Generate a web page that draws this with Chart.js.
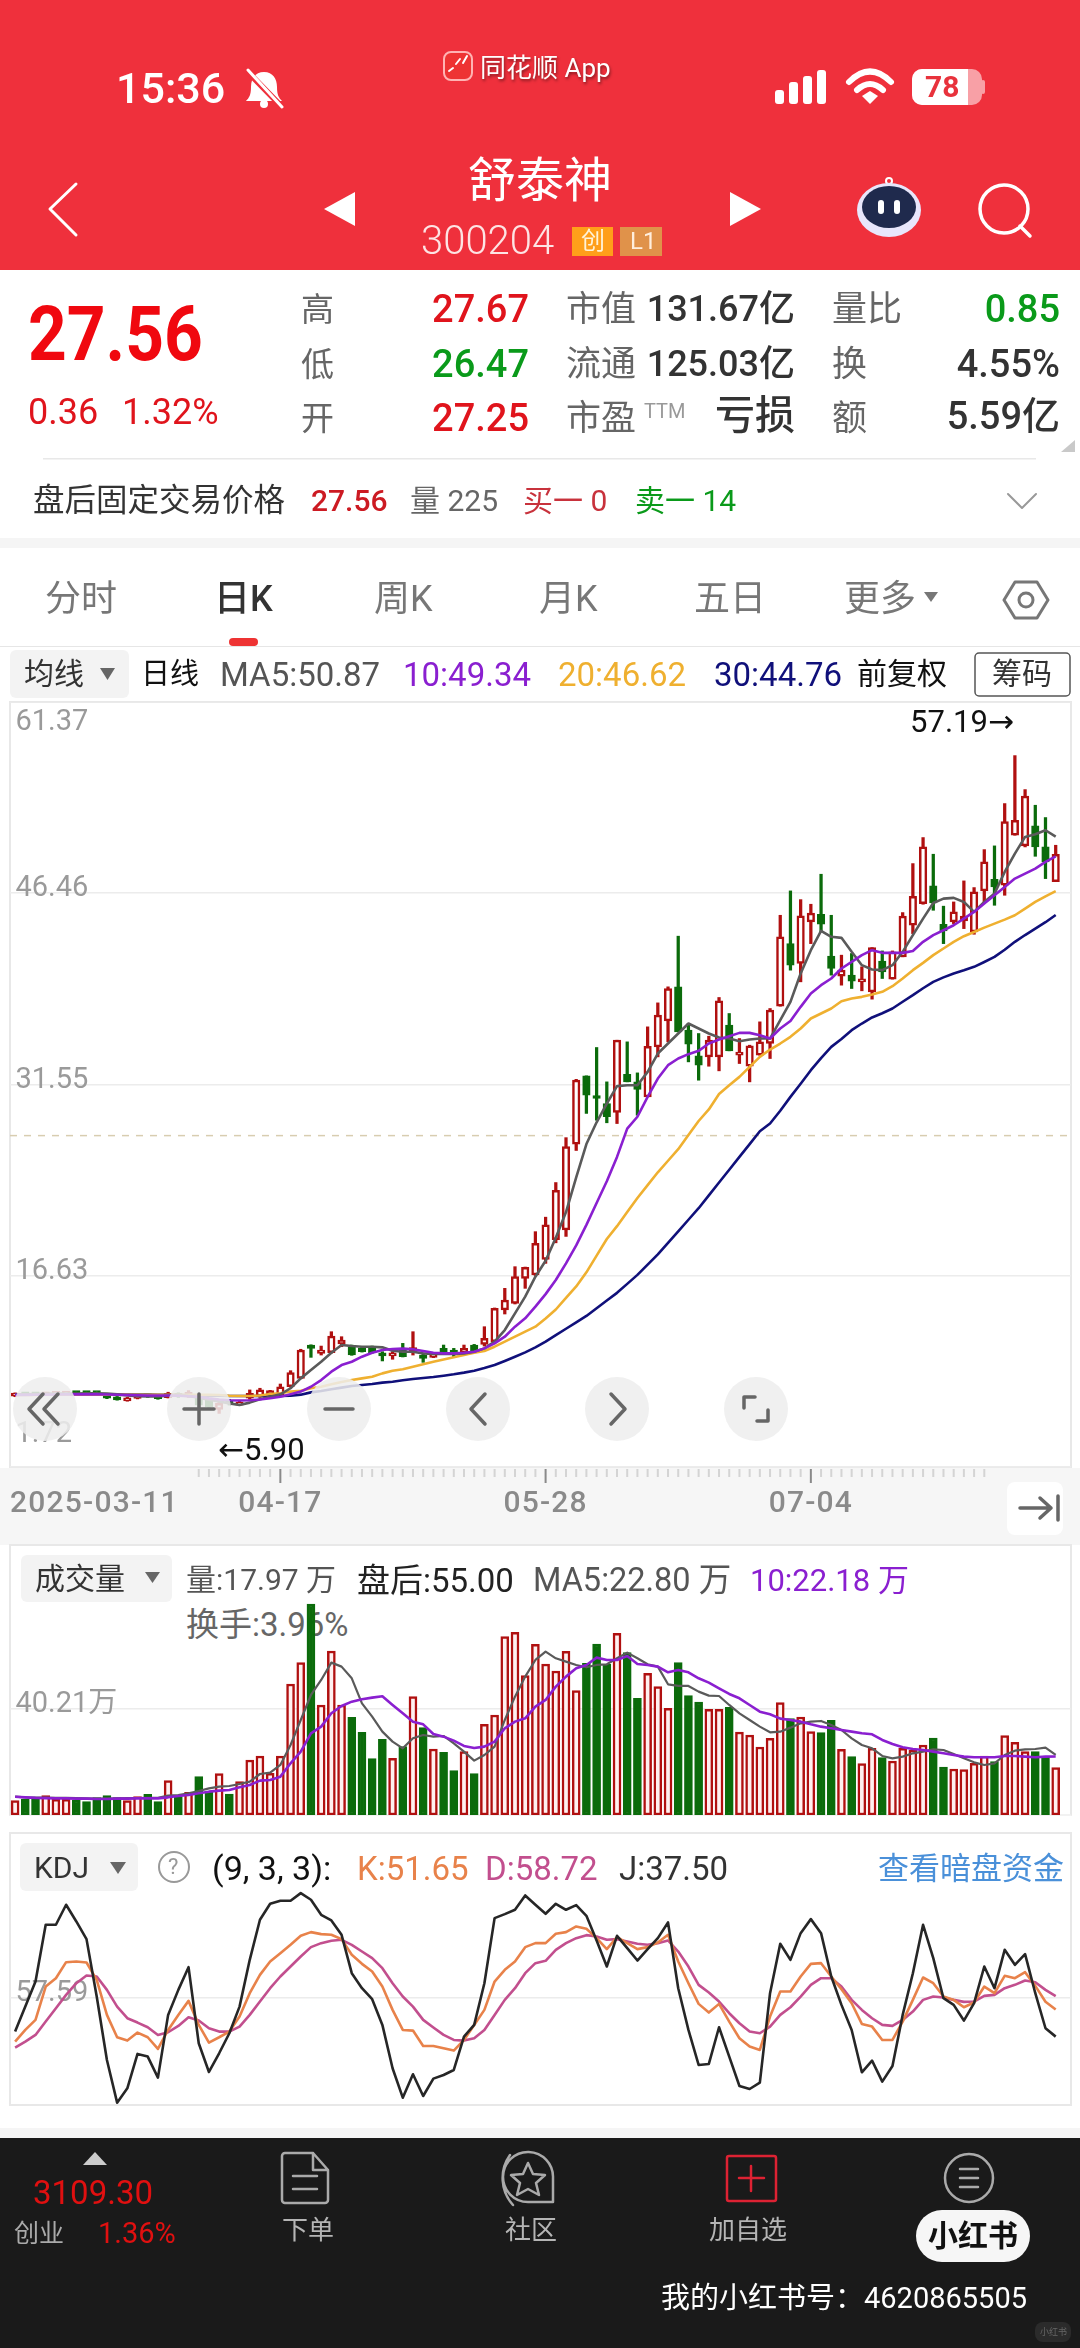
<!DOCTYPE html>
<html lang="zh">
<head>
<meta charset="utf-8">
<title>舒泰神 300204 日K</title>
<script src="https://cdn.jsdelivr.net/npm/chart.js@4/dist/chart.umd.min.js"></script>
<style>
  html, body { margin: 0; padding: 0; background: #fff; }
  #page { position: relative; width: 1080px; height: 2348px; overflow: hidden; background: #fff;
          font-family: Roboto, "Noto Sans CJK SC", sans-serif; }
  #page canvas { position: absolute; z-index: 2; }
  .layer { position: absolute; left: 0; top: 0; }
  .t { position: absolute; white-space: nowrap; line-height: 1; transform: translateY(-50%); z-index: 4; }
  .frame { position: absolute; border: 2px solid #e8e8e8; box-sizing: border-box; z-index: 1; }
</style>
</head>
<body>
<div id="page">
  <!-- backgrounds -->
  <svg class="layer" width="1080" height="2348" style="z-index:0">
    <rect x="0" y="0" width="1080" height="270" fill="#ef303c"/>
    <rect x="0" y="538" width="1080" height="10" fill="#f5f5f5"/>
    <rect x="0" y="646" width="1080" height="1" fill="#e6e6e6"/>
    <rect x="229" y="638" width="29" height="8" rx="4" fill="#ee3333"/>
    <rect x="10" y="650" width="119" height="48" rx="6" fill="#f3f3f3"/>
    <rect x="0" y="1468" width="1080" height="77" fill="#f6f6f6"/>
    <rect x="1007" y="1482" width="56" height="53" rx="8" fill="#fff"/>
    <rect x="21" y="1555" width="151" height="47" rx="6" fill="#f3f3f3"/>
    <rect x="20" y="1843" width="118" height="48" rx="6" fill="#f3f3f3"/>
    <rect x="0" y="2128" width="1080" height="10" fill="#f5f5f5"/>
    <rect x="0" y="2138" width="1080" height="210" fill="#1a1a1a"/>
    <rect x="43" y="458" width="993" height="1.5" fill="#e8e8e8"/>
    <rect x="916" y="2210" width="114" height="52" rx="26" fill="#f6f6f6"/>
    <rect x="1035" y="2322" width="36" height="20" rx="8" fill="#2b2b2b"/>
    <rect x="572" y="227" width="41" height="29" fill="#ff9f1a"/>
    <rect x="620" y="227" width="42" height="29" fill="#e0924a"/>
    <rect x="975" y="653" width="95" height="43" rx="4" fill="#fff" stroke="#555" stroke-width="1.5"/>
  </svg>

  <div class="frame" style="left:9px;top:701px;width:1063px;height:767px"></div>
  <div class="frame" style="left:9px;top:1544px;width:1063px;height:272px;border-bottom-color:#f2f2f2"></div>
  <div class="frame" style="left:9px;top:1832px;width:1063px;height:274px"></div>

  <canvas id="priceChart" width="1061" height="843" style="left:10px;top:702px"></canvas>
  <canvas id="volumeChart" width="1061" height="270" style="left:10px;top:1545px"></canvas>
  <canvas id="kdjChart" width="1061" height="272" style="left:10px;top:1833px"></canvas>

  <!-- icons and the round zoom buttons over the chart -->
  <svg class="layer" width="1080" height="2348" style="z-index:3" fill="none" stroke-linecap="round" stroke-linejoin="round">
    <!-- status bar -->
    <path d="M264 72c-9 0-13 7-13 15 0 8-2 11-5 14h36c-3-3-5-6-5-14 0-8-4-15-13-15z" fill="#fff"/>
    <circle cx="264" cy="104" r="4" fill="#fff"/>
    <path d="M246 70l36 37" stroke="#ef303c" stroke-width="6"/>
    <path d="M248 70l34 37" stroke="#fff" stroke-width="3"/>
    <rect x="444" y="52" width="28" height="28" rx="7" fill="#e33" stroke="#ffb3b3" stroke-width="2"/>
    <path d="M449 71l4-3m3-4l4-5m3 4l4-7" stroke="#fff" stroke-width="2"/>
    <g fill="#fff">
      <rect x="775" y="90" width="9" height="14" rx="3"/>
      <rect x="789" y="82" width="9" height="22" rx="3"/>
      <rect x="803" y="76" width="9" height="28" rx="3"/>
      <rect x="817" y="70" width="9" height="34" rx="3"/>
    </g>
    <path d="M849 82c14-14 28-14 42 0M857 90c9-8 17-8 26 0" stroke="#fff" stroke-width="6"/>
    <path d="M862 96l8-5 8 5-8 8z" fill="#fff"/>
    <rect x="912" y="69" width="70" height="36" rx="10" fill="#f8a0a6"/>
    <path d="M922 69h46v36h-46a10 10 0 0 1-10-10v-16a10 10 0 0 1 10-10z" fill="#fff"/>
    <rect x="981" y="80" width="4" height="14" rx="2" fill="#f8a0a6"/>
    <!-- title bar -->
    <path d="M76 184L50 209l26 26" stroke="#fff" stroke-width="3"/>
    <path d="M355 192v34l-31-17z" fill="#fff"/>
    <path d="M730 192v34l31-17z" fill="#fff"/>
    <circle cx="889" cy="181" r="3" stroke="#fff" stroke-width="2"/>
    <ellipse cx="889" cy="210" rx="32" ry="27" fill="#e8e6fb"/>
    <ellipse cx="889" cy="207" rx="27" ry="21" fill="#1f2a4d"/>
    <rect x="878" y="200" width="6" height="14" rx="3" fill="#fff"/>
    <rect x="894" y="200" width="6" height="14" rx="3" fill="#fff"/>
    <circle cx="1004" cy="209" r="24" stroke="#fff" stroke-width="3.5"/>
    <path d="M1020 226l10 10" stroke="#fff" stroke-width="3.5"/>
    <!-- quote panel -->
    <path d="M1075 440v12h-14z" fill="#c9c9c9"/>
    <path d="M1008 494l14 14 14-14" stroke="#999" stroke-width="2"/>
    <!-- tab bar -->
    <path d="M924 592h14l-7 10z" fill="#777"/>
    <path d="M1004 600l11-18h22l11 18-11 18h-22z" stroke="#777" stroke-width="3"/>
    <circle cx="1026" cy="600" r="7" stroke="#777" stroke-width="3"/>
    <path d="M100 668h15l-7.500 12z" fill="#666"/>
    <!-- zoom buttons -->
    <g fill="#ededed" fill-opacity=".86">
      <circle cx="45" cy="1409" r="32"/><circle cx="199" cy="1409" r="32"/><circle cx="339" cy="1409" r="32"/>
      <circle cx="478" cy="1409" r="32"/><circle cx="617" cy="1409" r="32"/><circle cx="756" cy="1409" r="32"/>
    </g>
    <g stroke="#666" stroke-width="3.500">
      <path d="M43 1394l-14 15 14 15M58 1394l-14 15 14 15"/>
      <path d="M184 1409h30M199 1394v30"/>
      <path d="M325 1409h28"/>
      <path d="M485 1394l-14 15 14 15"/>
      <path d="M611 1394l14 15-14 15"/>
      <path d="M744 1408v-11h11M768 1410v11h-11"/>
    </g>
    <!-- date strip -->
    <path d="M1020 1508h31M1040 1498l11 10-11 10M1058 1496v24" stroke="#666" stroke-width="3.500"/>
    <path d="M145 1572h15l-7.500 11z" fill="#666"/>
    <path d="M110 1862h16l-8 12z" fill="#666"/>
    <circle cx="174" cy="1867" r="15" stroke="#999" stroke-width="2"/>
    <!-- bottom bar -->
    <path d="M95 2152l12 13H83z" fill="#ccc"/>
    <g stroke="#aaa" stroke-width="2.500">
      <path d="M285 2153h28l15 17v30a3 3 0 0 1-3 3h-40a3 3 0 0 1-3-3v-44a3 3 0 0 1 3-3zM313 2153v17h15M293 2176h24M293 2189h24"/>
      <path d="M553 2202v-24a25 25 0 1 0-25 24zM510 2155a40 40 0 0 0 3 50"/>
      <path d="M528 2163l5 11 12 1-9 8 3 12-11-6-11 6 3-12-9-8 12-1z"/>
      <circle cx="969" cy="2178" r="24"/>
      <path d="M960 2169h18M960 2178h18M960 2187h18"/>
    </g>
    <rect x="727" y="2156" width="49" height="45" rx="2" stroke="#d23" stroke-width="2.500"/>
    <path d="M751 2166v25M739 2178h25" stroke="#d23" stroke-width="2.500"/>
  </svg>
</div>

<script>
// ---- price panel ----
const priceTicks = [1.72, 16.63, 31.55, 46.46, 61.37];
const priceTickShift = [-32, -4, -4, -4, 21];
const lastPrice = 27.56;

const opens = [
  7.25,7.45,7.45,7.35,7.38,7.40,7.58,7.55,7.55,7.32,
  7.20,6.87,7.07,7.30,7.25,7.13,7.46,7.20,7.08,6.95,
  6.20,6.90,6.55,7.08,7.20,7.28,7.34,7.98,8.63,11.23,
  10.58,10.63,11.31,11.05,10.97,11.05,10.58,10.38,10.84,10.79,
  10.45,10.27,10.97,10.84,10.63,11.23,11.28,11.49,13.96,14.48,
  16.43,16.69,17.90,19.45,20.20,26.90,32.22,30.55,30.06,29.36,
  32.33,31.75,30.58,34.48,36.50,39.16,35.78,33.78,33.70,33.70,
  36.17,33.83,32.97,33.83,34.74,37.65,42.53,40.98,44.22,44.82,
  41.55,40.00,40.07,39.55,38.77,41.16,39.76,41.50,43.96,45.65,
  47.03,44.04,44.22,44.30,43.44,46.64,47.55,47.08,50.98,50.15,
  51.71,50.07,47.37
];
const closes = [
  7.45,7.35,7.35,7.50,7.48,7.50,7.45,7.45,7.45,7.08,
  6.95,7.10,7.20,7.20,7.05,7.46,7.20,7.55,6.55,6.40,
  6.69,6.65,6.75,7.47,7.73,7.67,7.98,9.08,10.84,10.97,
  10.84,11.93,11.62,10.45,10.71,10.63,10.38,10.53,10.32,10.97,
  10.19,10.58,10.63,10.53,10.97,10.79,11.75,14.09,14.74,16.56,
  17.29,19.16,20.60,23.30,26.70,31.88,30.71,30.45,29.03,35.00,
  31.75,31.16,34.53,36.95,39.03,35.65,34.69,33.05,35.00,38.07,
  34.17,34.01,34.56,34.87,37.34,43.06,40.85,44.69,44.92,44.04,
  40.59,40.46,39.60,39.73,42.22,40.33,41.89,44.67,46.22,50.07,
  45.70,43.52,45.00,44.67,46.56,48.90,46.95,52.04,52.15,54.04,
  50.07,48.90,49.50
];
const highs = [
  7.50,7.50,7.50,7.55,7.55,7.55,7.60,7.60,7.58,7.35,
  7.22,7.15,7.25,7.35,7.30,7.55,7.50,7.68,7.20,7.00,
  6.75,7.00,6.85,7.73,7.86,7.70,8.19,9.23,10.90,11.25,
  11.15,12.27,11.88,11.23,11.10,11.15,10.71,10.71,11.36,12.27,
  10.53,10.65,11.23,10.97,11.23,11.28,12.66,14.12,15.65,17.34,
  17.31,20.07,21.20,23.90,27.40,31.95,32.22,34.43,31.75,35.00,
  34.87,32.45,36.04,37.91,39.16,43.11,36.30,35.52,35.31,38.33,
  37.08,35.13,34.61,36.43,37.47,44.74,46.64,45.96,45.60,47.94,
  44.74,41.63,41.76,40.72,42.22,41.96,41.96,44.95,48.77,50.80,
  49.50,45.45,45.78,47.42,46.90,49.86,50.15,53.45,57.19,54.54,
  53.32,52.36,50.20
];
const lows = [
  7.20,7.30,7.30,7.30,7.33,7.35,7.40,7.40,7.38,7.05,
  6.93,6.85,7.03,7.15,7.00,7.10,7.15,7.15,6.40,6.30,
  5.90,6.55,6.50,7.00,7.15,7.20,7.30,7.95,8.60,10.27,
  10.45,10.60,11.10,10.43,10.68,10.60,9.99,10.12,10.30,10.45,
  9.88,10.25,10.60,10.32,10.60,10.75,11.15,11.45,13.65,14.43,
  15.65,16.65,17.60,19.20,19.70,26.40,29.29,28.76,28.56,28.50,
  31.75,29.15,30.58,33.70,34.87,35.65,33.31,31.88,32.97,32.61,
  34.17,33.18,31.75,33.83,33.57,37.65,40.46,39.55,42.53,43.44,
  40.07,39.29,39.03,38.85,38.20,39.81,39.76,41.50,43.31,45.60,
  45.13,42.53,44.09,43.70,43.26,45.78,45.52,46.30,50.98,50.07,
  49.34,47.60,47.37
];
const ma5 = [
  7.39,7.39,7.40,7.42,7.44,7.45,7.45,7.46,7.47,7.44,
  7.38,7.30,7.25,7.22,7.22,7.28,7.30,7.26,7.12,6.97,
  6.82,6.68,6.56,6.74,7.00,7.20,7.39,7.86,8.63,9.28,
  9.93,10.63,11.23,11.15,11.10,11.10,11.05,10.79,10.71,10.71,
  10.58,10.53,10.53,10.53,10.58,10.71,10.97,11.49,12.40,13.70,
  15.00,16.56,17.80,19.60,21.60,24.30,26.90,28.60,30.06,31.42,
  31.49,31.49,32.53,33.96,34.74,35.52,36.30,35.91,35.52,35.21,
  35.13,34.92,35.05,35.13,35.13,36.56,37.99,40.20,42.02,43.52,
  43.06,42.98,41.89,40.85,40.51,40.46,40.85,41.89,43.19,44.48,
  45.70,46.04,46.10,45.78,45.00,45.78,46.43,48.12,49.55,50.85,
  51.06,51.37,50.87
];
const ma10 = [
  7.34,7.34,7.35,7.36,7.37,7.38,7.38,7.38,7.38,7.37,
  7.35,7.33,7.31,7.30,7.30,7.30,7.28,7.24,7.20,7.08,
  6.98,6.92,6.90,6.92,6.98,7.08,7.20,7.40,7.60,7.98,
  8.50,9.15,9.67,9.93,10.32,10.63,10.84,10.92,10.95,10.90,
  10.77,10.63,10.58,10.58,10.63,10.71,10.97,11.36,11.88,12.66,
  13.31,14.22,15.20,16.30,17.60,19.00,20.60,22.30,24.00,25.90,
  28.10,29.03,30.58,32.01,33.05,33.57,33.91,34.17,34.74,35.05,
  35.31,35.57,35.57,35.39,35.13,35.91,36.50,37.60,38.64,39.29,
  39.81,40.59,41.11,41.63,42.02,41.81,41.81,41.81,41.96,42.67,
  43.19,43.57,43.96,44.48,45.00,45.65,46.30,46.95,47.60,47.99,
  48.38,48.90,49.34
];
const ma20 = [
  7.34,7.34,7.34,7.35,7.35,7.36,7.36,7.36,7.36,7.36,
  7.36,7.35,7.35,7.35,7.35,7.35,7.35,7.34,7.34,7.34,
  7.33,7.28,7.26,7.26,7.30,7.41,7.47,7.60,7.67,7.86,
  7.98,8.17,8.35,8.50,8.63,8.76,9.02,9.23,9.34,9.54,
  9.73,9.93,10.11,10.27,10.45,10.63,10.77,11.10,11.49,11.88,
  12.27,12.66,13.30,14.00,14.90,15.80,16.90,18.20,19.50,20.50,
  21.60,22.70,23.70,24.70,25.60,26.50,27.60,28.70,29.60,30.80,
  31.49,32.14,32.92,33.70,34.27,34.74,35.26,35.91,36.69,37.08,
  37.47,38.04,38.25,38.38,38.56,38.77,39.21,39.81,40.46,41.03,
  41.63,42.15,42.67,43.11,43.44,43.78,44.09,44.40,44.74,45.26,
  45.78,46.22,46.62
];
const ma30 = [
  7.39,7.39,7.39,7.39,7.39,7.39,7.39,7.39,7.39,7.38,
  7.38,7.37,7.36,7.36,7.35,7.35,7.34,7.32,7.30,7.28,
  7.27,7.26,7.26,7.26,7.26,7.26,7.26,7.28,7.36,7.54,
  7.65,7.78,7.91,8.04,8.12,8.19,8.30,8.37,8.48,8.58,
  8.66,8.74,8.84,8.95,9.08,9.23,9.44,9.67,9.99,10.32,
  10.66,11.05,11.50,12.00,12.50,13.00,13.50,14.10,14.70,15.30,
  16.00,16.70,17.50,18.30,19.20,20.10,21.00,21.90,22.90,23.90,
  24.90,25.90,26.90,27.90,28.50,29.50,30.58,31.60,32.66,33.60,
  34.48,35.10,35.78,36.30,36.77,37.10,37.47,38.00,38.51,39.05,
  39.55,39.90,40.20,40.45,40.72,41.10,41.50,42.05,42.67,43.20,
  43.70,44.20,44.76
];
const dateTickIndex = [0, 26, 52, 78];
const dateTickText = ["2025-03-11", "04-17", "05-28", "07-04"];

// ---- volume panel (万) ----
const volumes = [
  5.44,5.94,5.94,7.33,5.94,5.94,5.69,5.06,6.58,7.33,
  6.58,5.44,6.95,7.84,5.06,13.02,6.95,8.60,14.54,8.85,
  15.68,7.97,12.65,20.86,22.38,15.81,22.38,49.69,57.79,80.04,
  41.73,62.21,41.73,37.05,31.36,21.37,28.70,21.50,25.92,44.89,
  33.13,25.04,23.77,16.82,24.03,15.68,34.39,37.94,67.65,69.29,
  52.86,64.74,57.28,54.63,62.09,47.17,57.53,64.87,57.15,68.92,
  61.58,44.26,53.74,48.68,40.46,57.79,45.27,42.87,40.08,40.08,
  40.84,31.49,30.35,25.80,29.08,42.61,36.54,37.18,31.61,31.23,
  35.91,24.91,22.13,19.47,25.29,21.75,20.48,25.29,24.66,26.55,
  29.21,18.21,17.45,17.20,19.60,22.38,20.23,30.09,27.57,24.03,
  24.03,22.13,17.97
];
const volMa5 = [
  6.95,6.70,6.60,6.58,6.50,6.50,6.45,6.32,6.20,6.20,
  6.32,6.40,6.45,6.50,6.50,7.33,7.59,8.22,9.10,10.12,
  10.75,11.00,11.76,12.65,15.55,16.06,18.97,26.55,36.04,45.52,
  51.21,57.79,56.27,51.84,42.36,37.30,31.61,27.82,25.29,29.08,
  30.35,29.72,29.97,27.19,24.03,20.61,22.76,25.92,36.04,44.89,
  52.48,58.80,61.96,59.43,58.17,56.90,56.02,56.90,57.15,59.43,
  61.58,59.43,57.15,56.27,49.57,48.94,48.94,46.79,45.27,45.14,
  41.73,38.57,36.04,33.51,31.36,31.61,33.13,34.77,35.41,35.66,
  34.14,32.24,29.08,26.55,25.29,22.38,21.50,22.13,23.39,24.03,
  24.91,24.66,23.14,21.50,19.98,18.97,19.60,22.76,24.40,24.91,
  25.04,25.54,22.80
];
const volMa10 = [
  6.95,6.70,6.50,6.40,6.32,6.32,6.20,6.20,6.07,6.07,
  6.20,6.20,6.32,6.32,6.32,6.70,7.20,7.59,8.22,8.85,
  9.23,9.48,10.50,11.38,13.02,13.28,14.54,19.60,24.03,30.98,
  33.51,38.57,41.35,42.99,43.88,44.51,45.02,41.73,38.57,35.41,
  34.39,30.73,29.72,28.20,26.18,25.42,25.92,27.82,32.88,35.41,
  36.67,41.10,43.63,48.68,52.48,55.64,56.90,59.68,58.80,58.80,
  60.32,57.28,56.90,56.27,54.12,55.00,54.12,51.84,50.20,48.05,
  45.90,44.26,41.73,39.20,38.19,36.54,36.04,35.41,34.39,33.51,
  32.88,32.24,31.61,30.98,30.60,28.45,26.93,25.67,25.04,24.66,
  24.03,23.39,22.76,22.13,21.88,21.88,21.88,22.38,22.38,22.13,
  21.88,22.13,22.18
];
const volGridValue = 40.21;

// ---- KDJ panel ----
const kdjK = [
  34.90,41.00,46.24,63.69,68.06,76.43,76.78,76.26,67.19,48.86,
  37.17,35.43,39.61,37.17,31.06,41.00,48.86,56.19,43.63,34.38,
  37.17,40.14,47.99,60.20,69.80,76.78,81.14,85.51,90.22,92.14,
  91.09,90.74,88.47,80.27,75.56,71.55,63.69,51.48,41.00,40.66,
  32.63,32.63,31.41,30.19,35.77,43.63,51.48,66.31,72.42,76.78,
  84.29,86.38,86.38,91.27,92.14,95.11,93.88,88.99,83.24,89.52,
  86.38,83.24,84.29,86.73,90.74,76.78,65.44,54.62,50.08,54.62,
  45.37,36.65,32.28,30.54,47.99,61.08,61.08,68.93,75.56,75.91,
  68.93,62.30,54.97,44.15,42.75,35.77,35.77,45.37,56.71,68.41,
  65.44,58.46,56.71,52.87,55.32,63.69,60.20,69.28,68.06,71.20,
  64.04,55.74,51.65
];
const kdjD = [
  31.76,34.90,38.39,45.37,52.35,59.33,65.44,69.45,68.93,61.95,
  53.20,47.12,44.85,42.41,38.39,39.79,43.10,47.64,45.89,41.88,
  40.14,40.14,42.75,48.86,55.84,62.82,68.93,74.16,79.40,84.29,
  86.38,87.60,88.12,85.51,82.00,78.53,73.29,65.44,58.46,53.20,
  46.24,42.23,38.39,35.77,35.43,36.65,41.00,48.86,56.71,62.82,
  70.67,75.91,77.13,82.89,86.38,88.99,90.57,89.87,88.12,88.47,
  87.25,86.03,85.51,86.38,87.78,82.00,74.16,64.57,60.55,55.84,
  49.74,44.50,40.14,39.27,42.75,48.86,52.87,58.46,64.57,68.06,
  68.06,63.69,56.71,51.48,47.12,43.63,43.10,46.24,50.61,56.71,
  58.46,57.93,56.71,55.66,55.84,58.80,59.33,62.82,64.57,66.84,
  65.97,61.95,58.72
];
const kdjJ = [
  40.14,53.20,66.31,95.98,95.98,106.45,97.72,88.47,58.46,25.30,
  2.97,10.47,28.45,27.05,16.06,48.86,61.95,73.82,34.03,19.02,
  28.80,39.27,53.20,77.65,98.60,106.97,108.54,108.54,112.55,109.07,
  101.21,98.25,90.74,70.67,62.82,57.06,43.63,20.94,5.59,17.80,
  6.46,15.53,17.45,20.07,37.52,43.63,65.44,99.47,101.56,103.83,
  111.33,106.45,101.73,106.97,103.83,106.27,100.69,87.78,74.16,90.22,
  83.76,77.30,83.24,88.99,97.20,62.82,41.00,22.69,23.21,42.41,
  27.05,11.69,10.12,13.44,60.20,86.03,77.65,91.61,98.94,91.61,
  68.93,54.10,41.00,18.85,24.95,13.96,22.16,48.86,70.67,95.98,
  78.53,57.59,54.10,45.89,54.97,74.16,62.82,82.89,75.04,80.62,
  60.20,41.88,37.50
];
const kdjGridValue = 57.59;

const RED = "#b01010", GREEN = "#0b6b0b", WHITE = "#ffffff";
const AXIS_FONT = '29px Roboto, "Noto Sans CJK SC"';
const AXIS_GRAY = "#9a9a9a";
const idx = (arr) => arr.map((y, x) => ({ x, y }));
const isUp = (i) => closes[i] >= opens[i];

// offset off: the bar controller's default would pad the linear x axis
const xScale = { type: "linear", min: -0.5, max: 103.5, display: false, offset: false, grid: { offset: false } };
const yScale = (min, max, ticks) => ({
  min, max,
  border: { display: false },
  grid: { color: "#ececec", lineWidth: 1.5, drawTicks: false },
  ticks: { display: false },
  afterBuildTicks: (scale) => { scale.ticks = ticks.map((value) => ({ value })); },
});
const baseOptions = (extra) => ({
  responsive: false,
  animation: false,
  events: [],
  plugins: { legend: { display: false }, tooltip: { enabled: false } },
  ...extra,
});
const lineSet = (data, color, width = 2.6) => ({
  type: "line",
  data: idx(data),
  borderColor: color,
  borderWidth: width,
  pointRadius: 0,
  tension: 0,
  borderJoinStyle: "round",
});

/* ---------- axis text drawn from the chart's own scales ---------- */
const priceText = {
  id: "priceText",
  beforeDatasetsDraw(chart) {
    const { ctx, scales: { y } } = chart;
    ctx.save();
    ctx.font = AXIS_FONT;
    ctx.fillStyle = AXIS_GRAY;
    ctx.textAlign = "left";
    ctx.textBaseline = "middle";
    priceTicks.forEach((v, k) => ctx.fillText(v.toFixed(2), 5.5, y.getPixelForValue(v) + priceTickShift[k]));
    ctx.restore();
  },
  afterDatasetsDraw(chart) {
    const { ctx, chartArea, scales: { x, y } } = chart;
    ctx.save();
    // high / low callouts
    ctx.font = '31px Roboto, "DejaVu Sans"';
    ctx.fillStyle = "#111";
    ctx.textBaseline = "middle";
    const hi = highs.indexOf(Math.max(...highs));
    const lo = lows.indexOf(Math.min(...lows));
    ctx.textAlign = "right";
    ctx.fillText(highs[hi].toFixed(2) + "→", x.getPixelForValue(hi) - 1, y.getPixelForValue(highs[hi]) - 31);
    ctx.textAlign = "left";
    ctx.fillText("←" + lows[lo].toFixed(2), x.getPixelForValue(lo) - 1, y.getPixelForValue(lows[lo]) + 39);
    // date strip under the plot
    for (let i = 18; i <= 95; i++) {
      const major = dateTickIndex.includes(i);
      const px = x.getPixelForValue(i);
      ctx.fillStyle = major ? "#8a8a8a" : "#d4d4d4";
      ctx.fillRect(px - 1, chartArea.bottom + 2, 2, major ? 14 : 8);
    }
    ctx.font = "500 30px Roboto";
    ctx.letterSpacing = "1.2px";
    ctx.fillStyle = "#8a8a8a";
    dateTickIndex.forEach((i, k) => {
      ctx.textAlign = k === 0 ? "left" : "center";
      ctx.fillText(dateTickText[k], k === 0 ? 0 : x.getPixelForValue(i), chartArea.bottom + 37);
    });
    ctx.restore();
  },
};
const gridText = (text, value, shift) => ({
  id: "gridText",
  beforeDatasetsDraw(chart) {
    const { ctx, scales: { y } } = chart;
    ctx.save();
    ctx.font = AXIS_FONT;
    ctx.fillStyle = AXIS_GRAY;
    ctx.textBaseline = "middle";
    ctx.fillText(text, 5.5, y.getPixelForValue(value) + shift);
    ctx.restore();
  },
});

/* ---------- candles + moving averages ---------- */
new Chart(document.getElementById("priceChart"), {
  type: "bar",
  data: {
    datasets: [
      lineSet(ma10, "#8a1fd0"),
      lineSet(ma5, "#5a5a5a"),
      lineSet(ma20, "#efb030"),
      lineSet(ma30, "#10107a"),
      {
        // candle bodies
        data: opens.map((o, i) => ({ x: i, y: [o, closes[i]] })),
        grouped: false,
        barThickness: 7.5,
        maxBarThickness: 7.5,
        minBarLength: 3,
        borderWidth: 2.5,
        borderSkipped: false,
        borderColor: opens.map((_, i) => (isUp(i) ? RED : GREEN)),
        backgroundColor: opens.map((_, i) => (isUp(i) ? WHITE : GREEN)),
      },
      {
        // wicks
        data: highs.map((h, i) => ({ x: i, y: [lows[i], h] })),
        grouped: false,
        barThickness: 2.6,
        maxBarThickness: 2.6,
        backgroundColor: highs.map((_, i) => (isUp(i) ? RED : GREEN)),
      },
      {
        type: "line",
        data: [{ x: -0.5, y: lastPrice }, { x: 103.5, y: lastPrice }],
        borderColor: "#d8cdb0",
        borderWidth: 1.5,
        borderDash: [7, 7],
        pointRadius: 0,
      },
    ],
  },
  options: baseOptions({
    layout: { padding: { bottom: 78 } },
    scales: { x: xScale, y: yScale(1.72, 61.37, priceTicks) },
  }),
  plugins: [priceText],
});

/* ---------- volume ---------- */
new Chart(document.getElementById("volumeChart"), {
  type: "bar",
  data: {
    datasets: [
      lineSet(volMa10, "#8a1fd0"),
      lineSet(volMa5, "#5a5a5a", 2.2),
      {
        data: idx(volumes),
        grouped: false,
        barThickness: 8,
        maxBarThickness: 8,
        borderWidth: 2.5,
        borderSkipped: false,
        borderColor: volumes.map((_, i) => (isUp(i) ? RED : GREEN)),
        backgroundColor: volumes.map((_, i) => (isUp(i) ? "#fff0f0" : GREEN)),
      },
    ],
  },
  options: baseOptions({
    scales: { x: xScale, y: yScale(0, 102.4, [volGridValue]) },
  }),
  plugins: [gridText(volGridValue + "万", volGridValue, -4)],
});

/* ---------- KDJ ---------- */
new Chart(document.getElementById("kdjChart"), {
  type: "line",
  data: {
    datasets: [
      lineSet(kdjJ, "#262626"),
      lineSet(kdjK, "#e8824a"),
      lineSet(kdjD, "#c24f8e"),
    ],
  },
  options: baseOptions({
    scales: { x: xScale, y: yScale(1.75, 143.97, [kdjGridValue]) },
  }),
  plugins: [gridText(String(kdjGridValue), kdjGridValue, -4)],
});

/* ---------- screen text ---------- */
// [text, x, centre y, size, colour, extras]; right-aligned items use a negative x
const page = document.getElementById("page");
const GREY = "#666", DARK = "#333", UPRED = "#e0141c", DNGREEN = "#0a9a1a";
const texts = [
  ["15:36", 116, 88, 43, "#fff", { fontWeight: 500 }],
  ["同花顺 App", 480, 68, 26, "#fff", { textShadow: "1px 2px 3px rgba(0,0,0,.45)" }],
  ["78", 925, 87, 30, "#e8323c", { fontWeight: 700 }],
  ["舒泰神", 468, 181, 48, "#fff"],
  ["300204", 421, 241, 40, "#fde4e4", { fontWeight: 300 }],
  ["创", 581, 241, 24, "#fff3d8"],
  ["L1", 630, 241, 24, "#ffeedd"],

  ["27.56", 28, 334, 76, "#f0080f", { fontWeight: 700, transform: "translateY(-50%) scaleX(.89)", transformOrigin: "left center" }],
  ["0.36", 28, 412, 36, UPRED],
  ["1.32%", 122, 412, 36, UPRED],
  ["高", 301, 309, 33, GREY],
  ["低", 301, 364, 33, GREY],
  ["开", 301, 418, 33, GREY],
  ["27.67", -529, 309, 38, UPRED, { fontWeight: 500 }],
  ["26.47", -529, 364, 38, DNGREEN, { fontWeight: 500 }],
  ["27.25", -529, 418, 38, UPRED, { fontWeight: 500 }],
  ["市值", 566, 309, 35, GREY],
  ["流通", 566, 364, 35, GREY],
  ["市盈", 566, 418, 35, GREY],
  ["TTM", 644, 411, 20, "#999"],
  ["131.67亿", -795, 309, 36, DARK, { fontWeight: 500 }],
  ["125.03亿", -795, 364, 36, DARK, { fontWeight: 500 }],
  ["亏损", -795, 416, 40, DARK, { fontWeight: 500 }],
  ["量比", 832, 309, 35, GREY],
  ["换", 832, 364, 35, GREY],
  ["额", 832, 418, 35, GREY],
  ["0.85", -1060, 309, 38, DNGREEN, { fontWeight: 500 }],
  ["4.55%", -1060, 364, 38, DARK, { fontWeight: 500 }],
  ["5.59亿", -1060, 416, 38, DARK, { fontWeight: 500 }],

  ["盘后固定交易价格", 33, 501, 31.500, DARK],
  ["27.56", 311, 501, 30, "#cc1a22", { fontWeight: 500 }],
  ["量 225", 410, 501, 30, GREY],
  ["买一 0", 523, 501, 30, "#c8323c"],
  ["卖一 14", 635, 501, 30, DNGREEN],

  ["分时", 45, 599, 36, "#777"],
  ["日K", 214, 599, 36, "#333", { fontWeight: 500 }],
  ["周K", 374, 599, 36, "#777"],
  ["月K", 539, 599, 36, "#777"],
  ["五日", 694, 599, 36, "#777"],
  ["更多", 844, 599, 36, "#777"],

  ["均线", 24, 674, 30, DARK],
  ["日线", 141, 674, 29, "#111"],
  ["MA5:50.87", 220, 674, 33, "#555"],
  ["10:49.34", 403, 674, 33, "#8a1fd0"],
  ["20:46.62", 558, 674, 33, "#efb030"],
  ["30:44.76", 714, 674, 33, "#10107a"],
  ["前复权", 857, 674, 30, "#111"],
  ["筹码", 992, 674, 30, DARK],

  ["成交量", 35, 1579, 30, DARK],
  ["量:17.97 万", 186, 1580, 30, "#555"],
  ["盘后:55.00", 357, 1580, 33, "#222"],
  ["MA5:22.80 万", 533, 1580, 32.500, "#555"],
  ["10:22.18 万", 750, 1580, 31, "#8a1fd0"],
  ["换手:3.96%", 186, 1624, 33, GREY, { zIndex: 1 }],

  ["KDJ", 34, 1868, 30, DARK],
  ["?", 168, 1867, 22, "#999"],
  ["(9, 3, 3):", 212, 1868, 34, "#111"],
  ["K:51.65", 357, 1868, 33, "#e8824a"],
  ["D:58.72", 485, 1868, 33, "#c24f8e"],
  ["J:37.50", 619, 1868, 33, "#333"],
  ["查看暗盘资金", 878, 1868, 31, "#4a90d9"],

  ["3109.30", 33, 2192, 33, "#e01010"],
  ["创业", 14, 2233, 25, "#aaa"],
  ["1.36%", 98, 2233, 29, "#e01010"],
  ["下单", 282, 2230, 26, "#b5b5b5"],
  ["社区", 505, 2230, 26, "#b5b5b5"],
  ["加自选", 709, 2230, 26, "#b5b5b5"],
  ["小红书", 928, 2236, 30, "#111", { fontWeight: 700 }],
  ["我的小红书号：4620865505", 661, 2298, 29, "#fff"],
  ["小红书", 1040, 2332, 9, "#666"],
];
texts.forEach(([text, x, y, size, color, extra]) => {
  const el = document.createElement("span");
  el.className = "t";
  el.textContent = text;
  if (x < 0) el.style.right = 1080 + x + "px";
  else el.style.left = x + "px";
  el.style.top = y + "px";
  el.style.fontSize = size + "px";
  el.style.color = color;
  Object.assign(el.style, extra || {});
  page.appendChild(el);
});
</script>
</body>
</html>
